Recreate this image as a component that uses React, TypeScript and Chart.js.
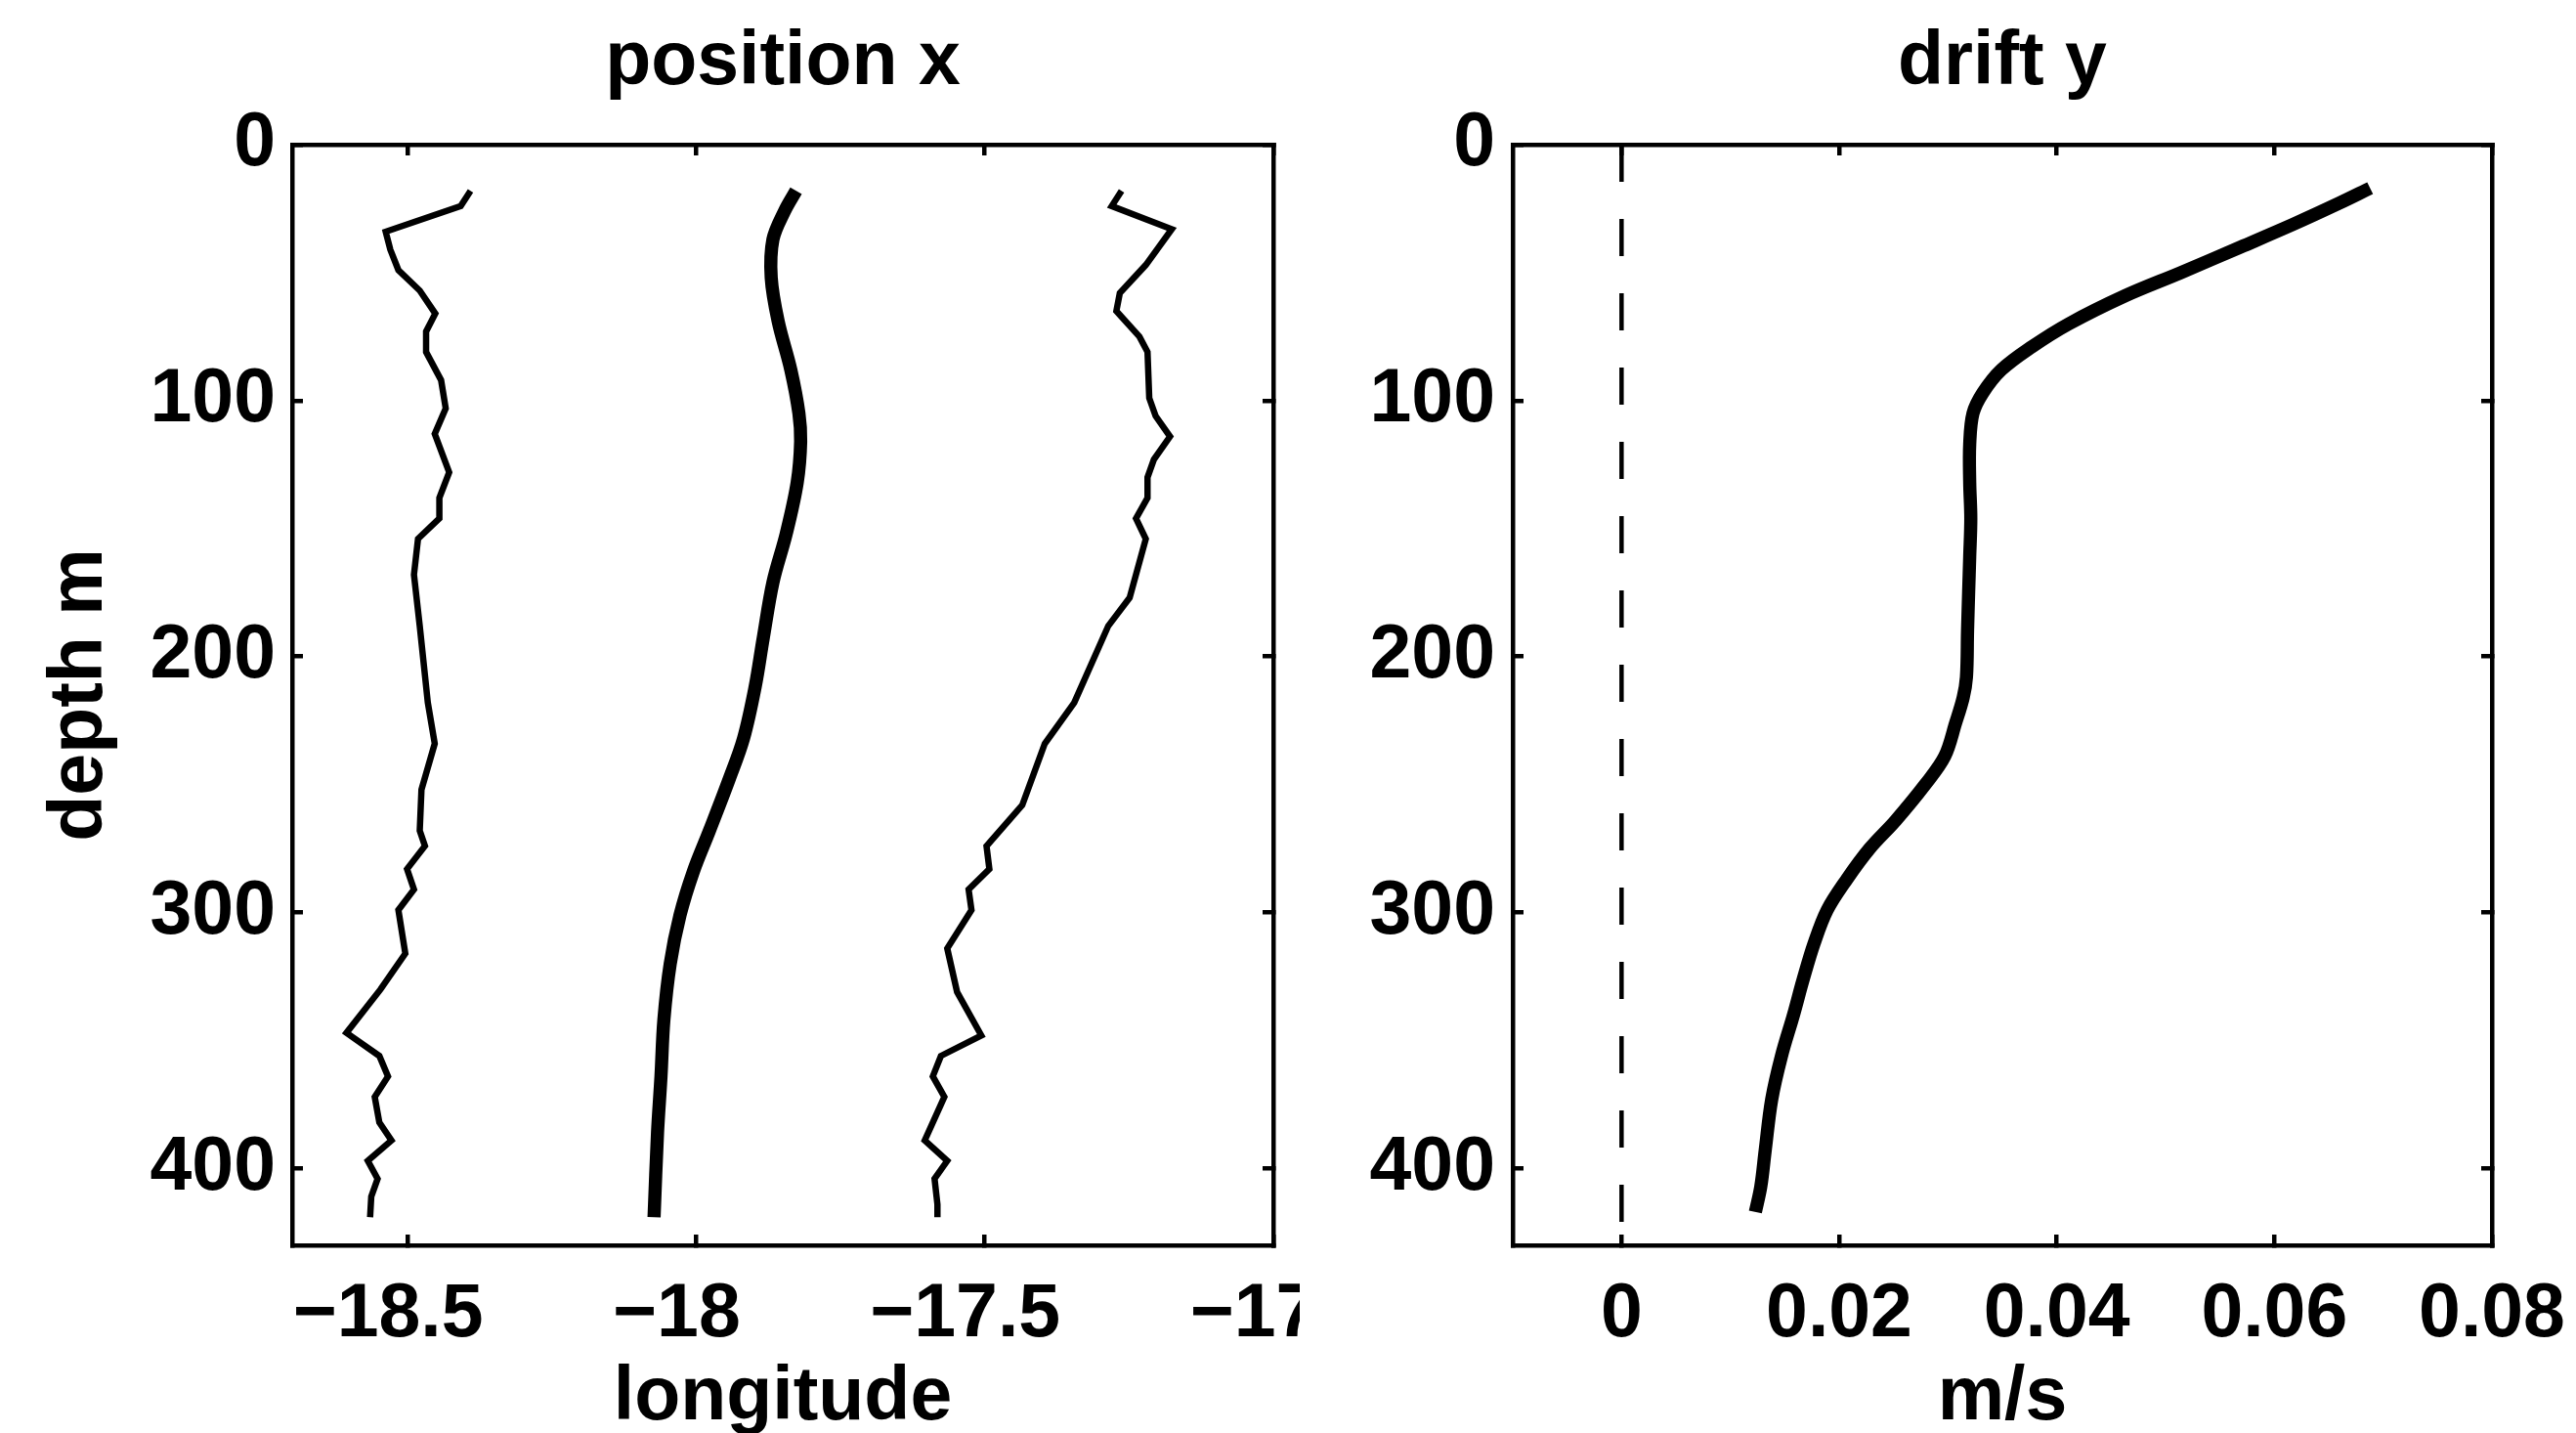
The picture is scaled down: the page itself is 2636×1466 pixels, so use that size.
import React, { useEffect, useRef } from 'react';
import { Chart, registerables } from 'chart.js';

Chart.register(...registerables);

// ---- data -----------------------------------------------------------------

// western envelope of the float positions
const westDepth = [18, 24, 34, 41, 49, 57, 66, 73, 81, 92, 103, 113, 128, 138, 146, 154, 168, 188, 218, 234, 252, 268, 274, 283, 291, 299, 316, 330, 347, 356, 364, 372, 382, 389, 397, 404, 411, 419];
const westLon = [-18.391, -18.408, -18.538, -18.53, -18.516, -18.479, -18.452, -18.468, -18.468, -18.442, -18.434, -18.453, -18.428, -18.445, -18.445, -18.482, -18.489, -18.479, -18.465, -18.453, -18.476, -18.479, -18.47, -18.501, -18.489, -18.516, -18.504, -18.547, -18.606, -18.549, -18.534, -18.557, -18.549, -18.528, -18.569, -18.552, -18.563, -18.565];

// mean position
const meanDepth = [18, 26, 37, 52, 69, 88, 105, 116, 132, 152, 171, 193, 212, 232, 248, 268, 284, 301, 320, 342, 364, 386, 419];
const meanLon = [-17.827, -17.847, -17.867, -17.87, -17.858, -17.836, -17.822, -17.819, -17.825, -17.844, -17.867, -17.884, -17.898, -17.918, -17.943, -17.977, -18.005, -18.028, -18.045, -18.056, -18.061, -18.067, -18.073];

// eastern envelope of the float positions
const eastDepth = [18, 24, 33, 47, 58, 65, 75, 81, 99, 106, 114, 123, 130, 138, 146, 154, 177, 188, 218, 234, 258, 274, 283, 291, 299, 314, 331, 348, 356, 364, 372, 389, 397, 404, 414, 419];
const eastLon = [-17.263, -17.28, -17.176, -17.221, -17.266, -17.272, -17.232, -17.218, -17.215, -17.204, -17.179, -17.207, -17.218, -17.218, -17.238, -17.221, -17.249, -17.286, -17.345, -17.396, -17.435, -17.497, -17.492, -17.528, -17.523, -17.565, -17.548, -17.506, -17.576, -17.59, -17.57, -17.604, -17.565, -17.587, -17.582, -17.582];

// meridional drift speed (m/s)
const driftDepth = [17, 23, 31, 40, 50, 59, 70, 79, 88, 97, 105, 117, 132, 146, 161, 175, 190, 208, 216, 226, 239, 250, 264, 275, 287, 299, 312, 326, 340, 356, 373, 393, 407, 417];
const driftSpeed = [0.0688, 0.0659, 0.0618, 0.0569, 0.0514, 0.0463, 0.0411, 0.0377, 0.0349, 0.0332, 0.0323, 0.032, 0.032, 0.0321, 0.032, 0.0319, 0.0318, 0.0317, 0.0314, 0.0307, 0.0297, 0.0279, 0.0252, 0.0228, 0.0207, 0.0189, 0.0177, 0.0167, 0.0158, 0.0147, 0.0138, 0.0132, 0.0128, 0.0123];

// zero-speed reference line
const zeroDepth = [0, 430];
const zeroSpeed = [0, 0];

// axes
const depthTicks = [0, 100, 200, 300, 400];
const depthRange = [0, 430];
const lonTicks = [-18.5, -18, -17.5, -17];
const lonRange = [-18.7, -17];
const speedTicks = [0, 0.02, 0.04, 0.06, 0.08];
const speedRange = [-0.01, 0.08];

// ---- styling / layout -----------------------------------------------------

const FIG_W = 2636;
const FIG_H = 1466;
const FONT_FAMILY = '"Liberation Sans", Arial, Helvetica, sans-serif';
const FONT_SIZE = 77;
const AXIS_W = 4.5;
const TICK_LEN = -11; // negative: tick marks point into the plot box
const THIN_W = 6.5;
const THICK_W = 13.5;

const PLOT_TOP = 148;
const PLOT_BOTTOM = 1274;
const TITLE_PAD_TOP = 26;

const textFont = () => ({ family: FONT_FAMILY, size: FONT_SIZE, weight: 'bold' as const, lineHeight: 1 });
const fmt = (v: number) => String(v).replace('-', '\u2212');
const pts = (xs: number[], ys: number[]) => xs.map((x, i) => ({ x, y: ys[i] }));

const fixedTicks = (values: number[]) => (scale: any) => {
  scale.ticks = values.map((value) => ({ value }));
};
const fixedSize = (dim: 'width' | 'height', size: number) => (scale: any) => {
  scale[dim] = size;
  scale.paddingLeft = 0;
  scale.paddingRight = 0;
  scale.paddingTop = 0;
  scale.paddingBottom = 0;
};

const tickGrid = {
  display: true,
  drawOnChartArea: false,
  drawTicks: true,
  tickLength: TICK_LEN,
  tickWidth: AXIS_W,
  tickColor: '#000',
  color: '#000',
  lineWidth: AXIS_W,
};
const axisBorder = { display: true, color: '#000', width: AXIS_W };

interface Panel {
  canvasLeft: number;
  canvasWidth: number;
  plotLeft: number; // in figure pixels
  plotRight: number;
  title: string;
  xTitle: string;
  yTitle?: string;
  xRange: number[];
  xTicks: number[];
  xLabelShift: number;
  yTickPad: number;
  datasets: any[];
}

function buildConfig(p: Panel): any {
  const left = p.plotLeft - p.canvasLeft;
  const rightGap = p.canvasLeft + p.canvasWidth - p.plotRight;
  const bottomGap = FIG_H - PLOT_BOTTOM;
  const labelTicks = { display: true, autoSkip: false, maxRotation: 0, minRotation: 0, color: '#000', font: textFont() };
  return {
    type: 'scatter',
    data: { datasets: p.datasets },
    options: {
      responsive: false,
      maintainAspectRatio: false,
      animation: false,
      devicePixelRatio: 1,
      events: [],
      layout: { padding: 0 },
      plugins: {
        legend: { display: false },
        tooltip: { enabled: false },
        title: {
          display: true,
          text: p.title,
          color: '#000',
          fullSize: false,
          font: textFont(),
          padding: { top: TITLE_PAD_TOP, bottom: PLOT_TOP - FONT_SIZE - TITLE_PAD_TOP },
        },
      },
      scales: {
        x: {
          type: 'linear',
          position: 'bottom',
          min: p.xRange[0],
          max: p.xRange[1],
          afterBuildTicks: fixedTicks(p.xTicks),
          afterFit: fixedSize('height', bottomGap),
          grid: tickGrid,
          border: axisBorder,
          ticks: { ...labelTicks, padding: 44, labelOffset: p.xLabelShift, callback: (v: any) => fmt(Number(v)) },
          title: { display: true, text: p.xTitle, color: '#000', font: textFont(), padding: { top: 0, bottom: -3 } },
        },
        x2: {
          type: 'linear',
          position: 'top',
          min: p.xRange[0],
          max: p.xRange[1],
          afterBuildTicks: fixedTicks(p.xTicks),
          afterFit: fixedSize('height', 0),
          grid: tickGrid,
          border: axisBorder,
          ticks: { display: false },
        },
        y: {
          type: 'linear',
          position: 'left',
          min: depthRange[0],
          max: depthRange[1],
          reverse: true,
          afterBuildTicks: fixedTicks(depthTicks),
          afterFit: fixedSize('width', left),
          grid: tickGrid,
          border: axisBorder,
          ticks: { ...labelTicks, padding: p.yTickPad, callback: (v: any) => fmt(Number(v)) },
          title: p.yTitle
            ? { display: true, text: p.yTitle, color: '#000', font: textFont(), padding: { top: 44, bottom: 0 } }
            : { display: false },
        },
        y2: {
          type: 'linear',
          position: 'right',
          min: depthRange[0],
          max: depthRange[1],
          reverse: true,
          afterBuildTicks: fixedTicks(depthTicks),
          afterFit: fixedSize('width', rightGap),
          grid: tickGrid,
          border: axisBorder,
          ticks: { display: false },
        },
      },
    },
  };
}

const line = (data: any[], width: number, tension: number, extra: any = {}) => ({
  data,
  xAxisID: 'x',
  yAxisID: 'y',
  showLine: true,
  borderColor: '#000',
  backgroundColor: '#000',
  borderWidth: width,
  pointRadius: 0,
  pointHoverRadius: 0,
  tension,
  fill: false,
  ...extra,
});

const positionPanel: Panel = {
  canvasLeft: 0,
  canvasWidth: 1330,
  plotLeft: 299,
  plotRight: 1303,
  title: 'position x',
  xTitle: 'longitude',
  yTitle: 'depth m',
  xRange: lonRange,
  xTicks: lonTicks,
  xLabelShift: -20,
  yTickPad: 28,
  datasets: [
    line(pts(westLon, westDepth), THIN_W, 0),
    line(pts(meanLon, meanDepth), THICK_W, 0.35),
    line(pts(eastLon, eastDepth), THIN_W, 0),
  ],
};

const driftPanel: Panel = {
  canvasLeft: 1330,
  canvasWidth: FIG_W - 1330,
  plotLeft: 1548,
  plotRight: 2550,
  title: 'drift y',
  xTitle: 'm/s',
  xRange: speedRange,
  xTicks: speedTicks,
  xLabelShift: 0,
  yTickPad: 29,
  datasets: [
    line(pts(zeroSpeed, zeroDepth), AXIS_W, 0, { borderDash: [38, 38] }),
    line(pts(driftSpeed, driftDepth), THICK_W, 0.35),
  ],
};

function PanelCanvas({ panel }: { panel: Panel }) {
  const ref = useRef<HTMLCanvasElement | null>(null);
  useEffect(() => {
    if (!ref.current) return;
    const chart = new Chart(ref.current, buildConfig(panel));
    return () => chart.destroy();
  }, [panel]);
  return (
    <canvas
      ref={ref}
      width={panel.canvasWidth}
      height={FIG_H}
      style={{
        position: 'absolute',
        left: panel.canvasLeft,
        top: 0,
        width: panel.canvasWidth,
        height: FIG_H,
      }}
    />
  );
}

export default function App() {
  return (
    <div
      style={{
        position: 'fixed',
        left: 0,
        top: 0,
        width: FIG_W,
        height: FIG_H,
        background: '#fff',
        overflow: 'hidden',
      }}
    >
      <PanelCanvas panel={positionPanel} />
      <PanelCanvas panel={driftPanel} />
    </div>
  );
}
